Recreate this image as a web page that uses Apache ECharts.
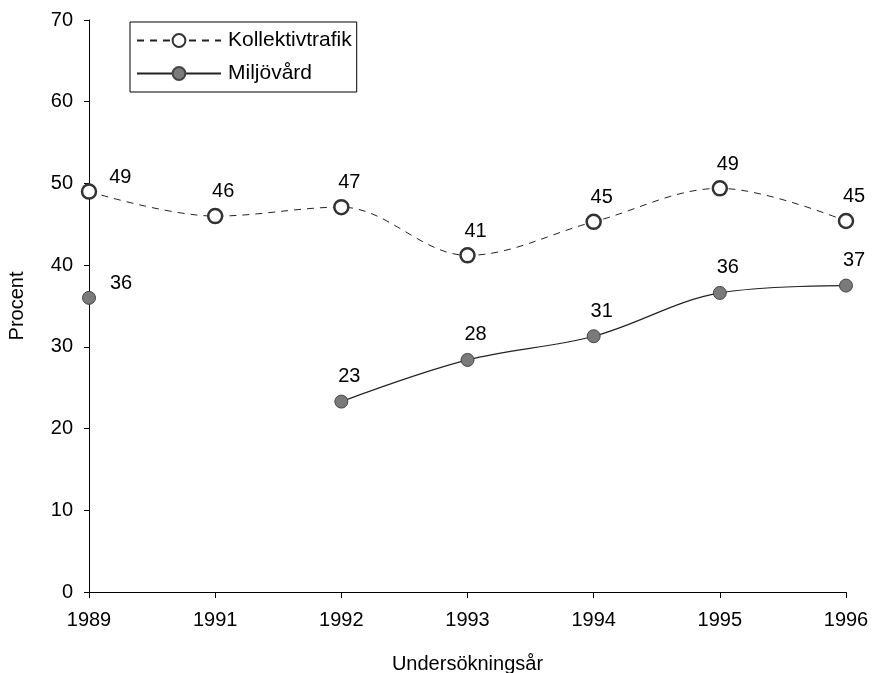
<!DOCTYPE html>
<html>
<head>
<meta charset="utf-8">
<script src="https://cdn.jsdelivr.net/npm/echarts@6/dist/echarts.min.js"></script>
<style>
    html, body { margin: 0; padding: 0; background: #fff; }
    #chart { width: 873px; height: 673px; }
</style>
</head>
<body>
<div id="chart"></div>
<script>
const years = ['1989', '1991', '1992', '1993', '1994', '1995', '1996']
const kollektiv = [49, 46, 47.1, 41.2, 45.3, 49.4, 45.4]
const kollektivLabels = ['49', '46', '47', '41', '45', '49', '45']
const miljo = [36, null, 23.3, 28.4, 31.3, 36.6, 37.5]
const miljoLabels = ['36', '', '23', '28', '31', '36', '37']

const font = 'Arial, "Liberation Sans", sans-serif'

// first point sits on the y axis, so its label goes to the right
const withLabels = (values, labels) => values.map((v, i) => ({
    value: v,
    lbl: labels[i],
    label: i === 0 ? { position: 'right', offset: [6, -14] } : undefined
}))

const chart = echarts.init(document.getElementById('chart'))

chart.setOption({
    animation: false,
    textStyle: { fontFamily: font },
    grid: { left: 89, right: 27, top: 20, bottom: 81, outerBoundsMode: 'none' },
    legend: {
        orient: 'vertical',
        left: 130,
        top: 22,
        padding: [8, 5, 8, 6],
        itemGap: 12,
        itemWidth: 84,
        itemHeight: 16,
        borderColor: '#000',
        borderWidth: 1,
        backgroundColor: '#fff',
        textStyle: { fontSize: 21, color: '#000', fontFamily: font, padding: [0, 0, 0, 2] },
        data: ['Kollektivtrafik', 'Miljövård']
    },
    xAxis: {
        type: 'category',
        data: years,
        boundaryGap: false,
        name: 'Undersökningsår',
        nameLocation: 'middle',
        nameGap: 62,
        nameTextStyle: { fontSize: 20, color: '#000' },
        axisLine: { lineStyle: { color: '#000', width: 1 } },
        axisTick: { alignWithLabel: true, length: 6, lineStyle: { color: '#000' } },
        axisLabel: { fontSize: 20, color: '#000', margin: 18 },
        splitLine: { show: false }
    },
    yAxis: {
        type: 'value',
        min: 0,
        max: 70,
        interval: 10,
        name: 'Procent',
        nameLocation: 'middle',
        nameGap: 62,
        nameTextStyle: { fontSize: 20, color: '#000' },
        axisLine: { show: true, lineStyle: { color: '#000', width: 1 } },
        axisTick: { show: true, length: 5, lineStyle: { color: '#000' } },
        axisLabel: { fontSize: 20, color: '#000', margin: 16 },
        splitLine: { show: false }
    },
    series: [
        {
            name: 'Kollektivtrafik',
            type: 'line',
            smooth: 0.35,
            data: withLabels(kollektiv, kollektivLabels),
            symbol: 'circle',
            symbolSize: 14,
            lineStyle: { color: '#222', width: 1, type: [7, 6] },
            itemStyle: { color: '#fff', borderColor: '#333', borderWidth: 2.5 },
            label: {
                show: true,
                position: 'top',
                distance: 6,
                offset: [8, 0],
                fontSize: 20,
                color: '#000',
                formatter: p => p.data.lbl
            }
        },
        {
            name: 'Miljövård',
            type: 'line',
            smooth: 0.35,
            connectNulls: false,
            data: withLabels(miljo, miljoLabels),
            symbol: 'circle',
            symbolSize: 13,
            lineStyle: { color: '#222', width: 1.2 },
            itemStyle: { color: '#7a7a7a', borderColor: '#444', borderWidth: 1 },
            label: {
                show: true,
                position: 'top',
                distance: 8,
                offset: [8, 0],
                fontSize: 20,
                color: '#000',
                formatter: p => p.data.lbl
            }
        }
    ]
})
</script>
</body>
</html>
